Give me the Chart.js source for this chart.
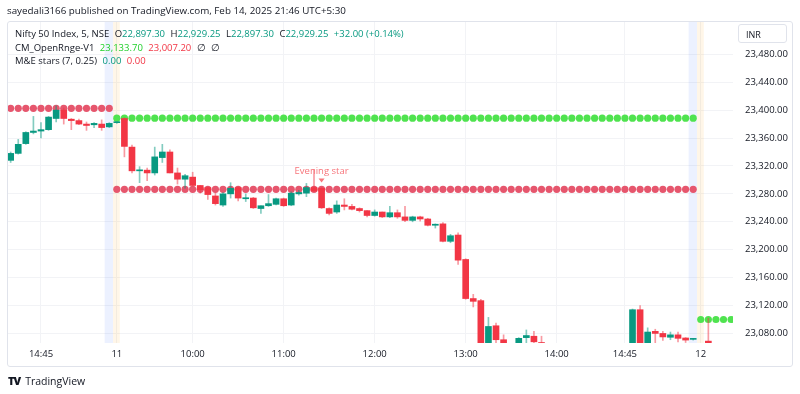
<!DOCTYPE html>
<html>
<head>
<meta charset="utf-8">
<script src="https://cdn.jsdelivr.net/npm/chart.js@4.4.1/dist/chart.umd.min.js"></script>
<style>
  body { margin: 0; background: #fff; font-family: "Open Sans", "Noto Sans", sans-serif; color: #131722; }
  #wrap { position: relative; width: 800px; height: 394px; overflow: hidden; }
  #c { position: absolute; left: 0; top: 0; }
  .title { position: absolute; left: 7px; top: 4px; font-size: 9.8px; white-space: nowrap; }
  .frame { position: absolute; left: 7px; top: 21px; width: 784px; height: 344px; border: 1px solid #e0e3eb; border-radius: 3px; pointer-events: none; }
  .legend { position: absolute; left: 15px; top: 27px; font-size: 9.5px; line-height: 13.6px; white-space: nowrap; }
  .legend span { margin-right: 3px; }
  .teal { color: #089981; }
  .red { color: #f23645; }
  .lime { color: #1fcf2a; }
  .inr { position: absolute; left: 738px; top: 24px; width: 49px; height: 19px; border: 1px solid #e0e3eb; border-radius: 3px; font-size: 9px; line-height: 19px; padding-left: 7px; box-sizing: border-box; }
  .footer { position: absolute; left: 8px; top: 373px; font-size: 10.5px; white-space: nowrap; display: flex; align-items: center; }
  .logo { font-weight: 900; font-size: 11px; letter-spacing: -1px; margin-right: 5px; }
</style>
</head>
<body>
<div id="wrap">
  <canvas id="c" width="800" height="394"></canvas>
  <div class="frame"></div>
  <div class="title">sayedali3166 published on TradingView.com, Feb 14, 2025 21:46 UTC+5:30</div>
  <div class="legend">
    <div><span>Nifty 50 Index, 5, NSE</span> O<span class="teal">22,897.30</span> H<span class="teal">22,929.25</span> L<span class="teal">22,897.30</span> C<span class="teal">22,929.25</span> <span class="teal">+32.00 (+0.14%)</span></div>
    <div><span>CM_OpenRnge-V1</span> <span class="lime">23,133.70</span> <span class="red">23,007.20</span> <span>∅</span> <span>∅</span></div>
    <div><span>M&amp;E stars (7, 0.25)</span> <span class="teal">0.00</span> <span class="red">0.00</span></div>
  </div>
  <div class="inr">INR</div>
  <div class="footer"><span class="logo">TV</span><span>TradingView</span></div>
</div>
<script>
// 5-minute Nifty bars, one slot per bar index (null = bar below visible range)
const opens = [
  23328, 23338, 23352, 23368, 23370, 23372, 23388, 23400, 23387, 23385, 23380, 23379, 23380, 23376,
  23382, 23388, 23347, 23313, 23314, 23310, 23332, 23340, 23310, 23301, 23304, 23292, 23289, 23277,
  23264, 23280, 23289, 23273, 23274, 23259, 23263, 23265, 23273, 23264, 23280, 23281, 23289, 23288,
  23259, 23254, 23264, 23262, 23259, 23256, 23249, 23254, 23247, 23253, 23247, 23242, 23247, 23244,
  23235, 23237, 23212, 23221, 23186, 23130, 23127, 23055, 23091, 23071, null, 23060, 23074, 23076,
  23067, null, null, null, null, null, null, null, null, null, null, null, 23050, 23114,
  23060, 23083, 23080, 23074.5, 23078, 23073.5, 23071.5, null, 23069
];
const highs = [
  23340, 23358, 23369, 23391, 23382, 23391, 23406, 23403, 23388, 23387, 23383, 23382, 23386, 23382,
  23383, 23389, 23350, 23319, 23317, 23347, 23351, 23343, 23317, 23308, 23311, 23292, 23290, 23281,
  23282, 23296, 23290, 23280, 23275, 23263, 23279, 23274, 23274, 23283, 23285, 23295, 23315, 23289,
  23260, 23270, 23273, 23265, 23260, 23256, 23257, 23254, 23262, 23257, 23262, 23248, 23248, 23245,
  23237, 23239, 23222, 23224, 23187, 23136, 23129, 23103, 23095, 23078, null, 23074, 23085, 23083,
  23076, null, null, null, null, null, null, null, null, null, null, null, 23115, 23120,
  23088, 23086, 23083, 23082, 23082, 23074, 23073, null, 23102
];
const lows = [
  23325, 23337, 23351, 23366, 23360, 23371, 23383, 23380, 23372, 23379, 23371, 23375, 23371, 23375,
  23381, 23333, 23310, 23296, 23299, 23307, 23325, 23310, 23294, 23288, 23291, 23281, 23272, 23264,
  23262, 23274, 23270, 23269, 23259, 23252, 23262, 23264, 23262, 23263, 23278, 23276, 23284, 23259,
  23250, 23252, 23257, 23257, 23254, 23247, 23248, 23246, 23246, 23245, 23240, 23240, 23241, 23234,
  23231, 23211, 23210, 23179, 23129, 23118, 23040, 23045, 23060, 23050, null, 23055, 23060, 23062,
  23058, null, null, null, null, null, null, null, null, null, null, null, 23045, 23055,
  23058, 23062, 23070, 23071, 23068, 23067, 23070.5, null, 23055
];
const closes = [
  23338, 23351, 23368, 23370, 23372, 23390, 23400, 23388, 23385, 23380, 23378, 23381, 23375, 23381,
  23382.5, 23348, 23313, 23314, 23310, 23333, 23340, 23310, 23301, 23306, 23292, 23286, 23279, 23266,
  23280, 23288, 23274, 23274.5, 23260, 23263, 23266, 23273, 23263, 23281, 23282, 23289, 23284, 23260,
  23252, 23264, 23262, 23258, 23256, 23249, 23254, 23247, 23253, 23247, 23242, 23247, 23244, 23235,
  23236.5, 23212, 23220, 23185, 23130, 23126, 23050, 23090, 23071, 23060, null, 23073, 23077, 23068,
  23065, null, null, null, null, null, null, null, null, null, null, null, 23114, 23060,
  23082, 23080, 23075, 23078, 23073, 23070.5, 23072.5, null, 23060
];

// CM_OpenRnge levels per session (first bar, last bar)
const sessionFirst = [0, 14, 91];
const sessionLast = [13, 90, 95];
const rangeHigh = [null, 23388.5, 23100];
const rangeLow = [23402.5, 23286.5, null];
const sessionBreaks = [13.5, 90.5];

const xTickPos = [4, 14, 24, 36, 48, 60, 72, 81, 91];
const xTickText = ['14:45', '11', '10:00', '11:00', '12:00', '13:00', '14:00', '14:45', '12'];
const yTicks = [23080, 23120, 23160, 23200, 23240, 23280, 23320, 23360, 23400, 23440, 23480];

const starIndex = 41;
const starText = 'Evening star';

const UP = '#089981';
const DOWN = '#f23645';
const UP_WICK = 'rgba(8,153,129,0.5)';
const DOWN_WICK = 'rgba(242,54,69,0.5)';

const bodies = [];
const wicks = [];
const bodyColors = [];
const wickColors = [];
opens.forEach((o, i) => {
  if (o == null) return;
  const up = closes[i] >= o;
  bodies.push({ x: i, y: [o, closes[i]] });
  wicks.push({ x: i, y: [lows[i], highs[i]] });
  bodyColors.push(up ? UP : DOWN);
  wickColors.push(up ? UP_WICK : DOWN_WICK);
});

function levelPoints(levels) {
  const pts = [];
  levels.forEach((lvl, s) => {
    if (lvl == null) return;
    for (let i = sessionFirst[s]; i <= sessionLast[s]; i++) pts.push({ x: i, y: lvl });
  });
  return pts;
}

const sessionBands = {
  id: 'sessionBands',
  beforeDatasetsDraw(chart) {
    const { ctx, chartArea, scales } = chart;
    ctx.save();
    sessionBreaks.forEach((b) => {
      const a = scales.x.getPixelForValue(b - 1.1);
      const m = scales.x.getPixelForValue(b);
      const e = scales.x.getPixelForValue(b + 0.9);
      ctx.fillStyle = 'rgba(41,98,255,0.09)';
      ctx.fillRect(a, chartArea.top, m - a, chartArea.bottom - chartArea.top);
      ctx.fillStyle = 'rgba(255,152,0,0.09)';
      ctx.fillRect(m, chartArea.top, e - m, chartArea.bottom - chartArea.top);
    });
    ctx.restore();
  },
  afterDatasetsDraw(chart) {
    const { ctx, scales } = chart;
    const x = scales.x.getPixelForValue(starIndex);
    const y = scales.y.getPixelForValue(highs[starIndex]);
    ctx.save();
    ctx.fillStyle = '#f7767c';
    ctx.font = '9.5px "Open Sans", sans-serif';
    ctx.textAlign = 'center';
    ctx.textBaseline = 'middle';
    ctx.fillText(starText, x, y - 16);
    ctx.beginPath();
    ctx.moveTo(x - 3, y - 9);
    ctx.lineTo(x + 3, y - 9);
    ctx.lineTo(x, y - 5);
    ctx.closePath();
    ctx.fill();
    ctx.restore();
  },
};

new Chart(document.getElementById('c'), {
  type: 'bar',
  data: {
    datasets: [
      { data: bodies, backgroundColor: bodyColors, barThickness: 6, minBarLength: 1, grouped: false, order: 0 },
      { data: wicks, backgroundColor: wickColors, barThickness: 1, grouped: false, order: 1 },
      {
        type: 'line', data: levelPoints(rangeHigh), showLine: false, order: 2,
        pointRadius: 3.6, pointBackgroundColor: '#4fe34f', pointBorderWidth: 0,
      },
      {
        type: 'line', data: levelPoints(rangeLow), showLine: false, order: 2,
        pointRadius: 3.6, pointBackgroundColor: '#e6566d', pointBorderWidth: 0,
      },
    ],
  },
  options: {
    responsive: false,
    animation: false,
    devicePixelRatio: 1,
    layout: { padding: { left: 8, top: 21, right: 7, bottom: 28 } },
    plugins: { legend: { display: false }, tooltip: { enabled: false } },
    scales: {
      x: {
        type: 'linear',
        offset: false,
        min: -0.35,
        max: 95.25,
        afterBuildTicks: (axis) => { axis.ticks = xTickPos.map((v) => ({ value: v })); },
        afterFit: (axis) => { axis.height = 23; },
        ticks: {
          autoSkip: false, maxRotation: 0, padding: 6, color: '#131722',
          font: { family: '"Open Sans", sans-serif', size: 9.5 },
          callback: (v, i) => xTickText[i],
        },
        grid: { color: '#f2f3f6', drawTicks: false, offset: false },
        border: { display: false },
      },
      y: {
        position: 'right',
        min: 23066.3,
        max: 23527.7,
        afterBuildTicks: (axis) => { axis.ticks = yTicks.map((v) => ({ value: v })); },
        afterFit: (axis) => { axis.width = 60; },
        ticks: {
          padding: 12, color: '#131722',
          font: { family: '"Open Sans", sans-serif', size: 9.5 },
          callback: (v) => v.toLocaleString('en-US', { minimumFractionDigits: 2, maximumFractionDigits: 2 }),
        },
        grid: { color: '#f2f3f6', drawTicks: false },
        border: { display: false },
      },
    },
  },
  plugins: [sessionBands],
});
</script>
</body>
</html>
